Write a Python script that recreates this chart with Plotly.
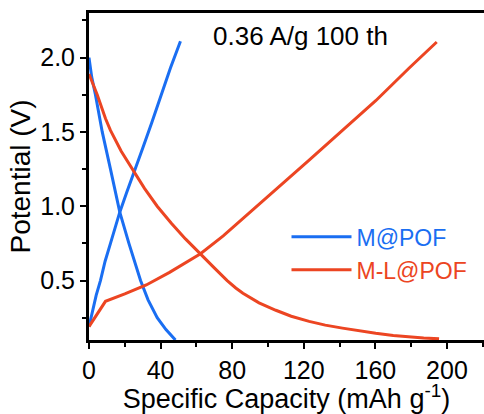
import plotly.graph_objects as go

# Galvanostatic charge/discharge profiles at 0.36 A/g, 100th cycle
# capacity in mAh g^-1, potential in V

m_pof_charge_cap = [0, 2, 4, 6.4, 9, 12, 14.5, 17.2, 21, 25, 30, 35, 40, 45.5, 51.1]
m_pof_charge_pot = [0.19, 0.30, 0.40, 0.50, 0.63, 0.75, 0.86, 0.96, 1.09, 1.22, 1.39, 1.56, 1.74, 1.93, 2.11]

m_pof_dis_cap = [0, 1.5, 3.6, 7.4, 12, 17.2, 22.3, 28.8, 33, 38.1, 43, 48.3]
m_pof_dis_pot = [2.0, 1.87, 1.75, 1.5, 1.25, 0.96, 0.75, 0.5, 0.37, 0.25, 0.17, 0.10]

ml_pof_charge_cap = [0, 9.2, 20, 32, 45, 62.3, 75, 93, 108, 123, 141.6, 160.2, 178.9, 194.3]
ml_pof_charge_pot = [0.19, 0.36, 0.41, 0.47, 0.555, 0.68, 0.80, 0.99, 1.15, 1.31, 1.51, 1.71, 1.93, 2.105]

ml_pof_dis_cap = [0, 4.6, 9.2, 12, 18, 24.1, 31, 38.1, 46, 53.9, 61.9, 70, 77.2, 82, 86, 90, 95, 104.4, 113, 123, 132, 141.6, 151, 160.2, 170, 178.9, 187, 195.6]
ml_pof_dis_pot = [1.89, 1.75, 1.59, 1.51, 1.37, 1.25, 1.12, 1.0, 0.885, 0.78, 0.68, 0.585, 0.50, 0.45, 0.415, 0.385, 0.35, 0.30, 0.26, 0.225, 0.20, 0.18, 0.16, 0.145, 0.13, 0.12, 0.113, 0.108]

series_names = ["M@POF", "M-L@POF"]
series_colors = ["#1a6ef2", "#ec4522"]

x_ticks = [0, 40, 80, 120, 160, 200]
y_ticks = [0.5, 1.0, 1.5, 2.0]

FONT = "Arial, Liberation Sans, sans-serif"

fig = go.Figure()

curves = [
    (m_pof_charge_cap, m_pof_charge_pot, 0, True),
    (m_pof_dis_cap, m_pof_dis_pot, 0, False),
    (ml_pof_charge_cap, ml_pof_charge_pot, 1, True),
    (ml_pof_dis_cap, ml_pof_dis_pot, 1, False),
]
for cap, pot, idx, show in curves:
    fig.add_trace(go.Scatter(
        x=cap, y=pot, mode="lines",
        line=dict(color=series_colors[idx], width=3),
        name=f"<span style='color:{series_colors[idx]}'>{series_names[idx]}</span>",
        legendgroup=series_names[idx],
        showlegend=show,
        cliponaxis=True,
    ))

fig.add_annotation(
    text="0.36 A/g 100 th", xref="paper", yref="paper",
    x=0.31, y=0.93, xanchor="left", yanchor="middle",
    showarrow=False, font=dict(family=FONT, size=26, color="black"),
)

fig.update_layout(
    width=484, height=414,
    margin=dict(l=89, r=0, t=13, b=74),
    paper_bgcolor="white", plot_bgcolor="white",
    font=dict(family=FONT, color="black"),
    legend=dict(
        x=0.5, y=0.265, xanchor="left", yanchor="middle",
        bgcolor="rgba(0,0,0,0)", font=dict(family=FONT, size=23),
        itemwidth=60, tracegroupgap=0,
    ),
    xaxis=dict(
        range=[0, 220.7], tickvals=x_ticks, ticktext=[str(v) for v in x_ticks],
        showgrid=False, zeroline=False,
        showline=True, linecolor="black", linewidth=3, mirror=True,
        ticks="outside", ticklen=6, tickwidth=2, tickcolor="black",
        minor=dict(ticks="outside", ticklen=4, tickwidth=2, dtick=20, tick0=0, tickcolor="black"),
        tickfont=dict(family=FONT, size=25), ticklabelstandoff=0,
        title=dict(text="Specific Capacity (mAh g<sup>-1</sup>)",
                   font=dict(family=FONT, size=27), standoff=0),
    ),
    yaxis=dict(
        range=[0.1, 2.3], tickvals=y_ticks, ticktext=[f"{v:.1f}" for v in y_ticks],
        showgrid=False, zeroline=False,
        showline=True, linecolor="black", linewidth=3, mirror=False,
        ticks="outside", ticklen=6, tickwidth=2, tickcolor="black",
        minor=dict(ticks="outside", ticklen=4, tickwidth=2, dtick=0.25, tick0=0, tickcolor="black"),
        tickfont=dict(family=FONT, size=25),
        title=dict(text="Potential (V)", font=dict(family=FONT, size=28), standoff=2),
    ),
)

fig.write_html("out.html")
